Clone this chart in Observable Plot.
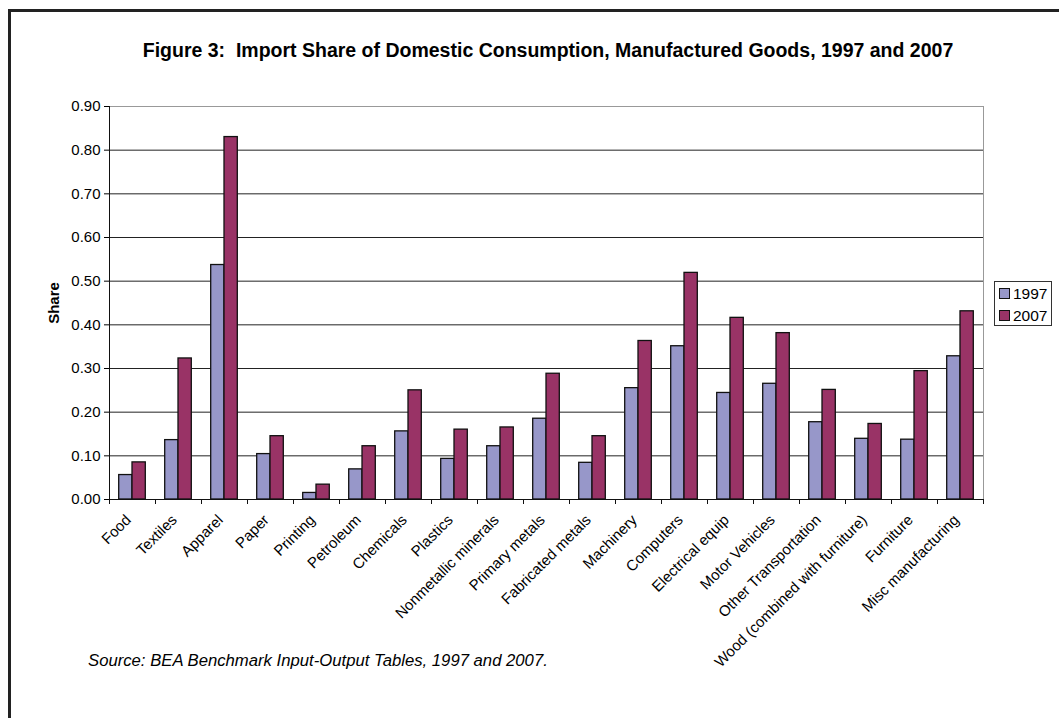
<!DOCTYPE html>
<html><head><meta charset="utf-8">
<script src="https://cdn.jsdelivr.net/npm/d3@7"></script>
<script src="https://cdn.jsdelivr.net/npm/@observablehq/plot@0.6"></script>
<style>
body{margin:0;background:#fff;font-family:"Liberation Sans",Arial,sans-serif;color:#000;}
#wrap{position:relative;width:1059px;height:718px;overflow:hidden;background:#fff;}
#frame{position:absolute;left:8px;top:9px;right:-10px;bottom:-10px;border-left:3px solid #222;border-top:3px solid #222;}
#chart{position:absolute;left:0;top:0;}
#title{position:absolute;left:0;width:1096px;top:41px;text-align:center;font-weight:bold;font-size:19.5px;line-height:1;white-space:nowrap;}
#source{position:absolute;left:88px;top:653px;font-style:italic;font-size:16.7px;line-height:1;white-space:nowrap;}
#legend{position:absolute;left:994px;top:281px;width:56px;height:43px;border:1px solid #333;background:#fff;}
.sw{position:absolute;left:4px;width:9px;height:9px;border:1px solid #111;}
.lt{position:absolute;left:18px;font-size:15.5px;line-height:1;}
</style>
</head><body>
<div id="wrap">
  <div id="frame"></div>
  <div id="chart"></div>
  <div id="title">Figure 3:&nbsp; Import Share of Domestic Consumption, Manufactured Goods, 1997 and 2007</div>
  <div id="source">Source: BEA Benchmark Input-Output Tables, 1997 and 2007.</div>
  <div id="legend"></div>
</div>
<script>
const categories = ["Food","Textiles","Apparel","Paper","Printing","Petroleum","Chemicals","Plastics","Nonmetallic minerals","Primary metals","Fabricated metals","Machinery","Computers","Electrical equip","Motor Vehicles","Other Transportation","Wood (combined with furniture)","Furniture","Misc manufacturing"];
const share1997 = [0.056,0.136,0.537,0.104,0.015,0.069,0.156,0.093,0.122,0.185,0.084,0.255,0.351,0.244,0.265,0.177,0.139,0.137,0.328];
const share2007 = [0.085,0.323,0.830,0.145,0.034,0.122,0.250,0.160,0.165,0.288,0.145,0.363,0.519,0.416,0.381,0.251,0.173,0.294,0.431];
const years = ["1997","2007"];
const yearColors = ["#9797C9","#993366"];
const yTicks = [0,0.1,0.2,0.3,0.4,0.5,0.6,0.7,0.8,0.9];

const d97 = categories.map((c,i)=>({category:c, year:"1997", value:share1997[i]}));
const d07 = categories.map((c,i)=>({category:c, year:"2007", value:share2007[i]}));

const chart = Plot.plot({
  width: 1059, height: 718,
  marginLeft: 109, marginRight: 76, marginTop: 106, marginBottom: 219,
  style: {fontFamily: '"Liberation Sans", Arial, sans-serif', fontSize: "15px", color: "#000", background: "transparent"},
  x: {type: "band", domain: categories, padding: 0},
  y: {domain: [0, 0.9]},
  color: {domain: years, range: yearColors},
  marks: [
    Plot.frame({stroke: "#999"}),
    Plot.gridY(yTicks.slice(1, -1), {stroke: "#222", strokeOpacity: 1}),
    Plot.barY(d97, {x: "category", y: "value", fill: "year", stroke: "#111", strokeWidth: 1.3, insetLeft: 9.7, insetRight: 23}),
    Plot.barY(d07, {x: "category", y: "value", fill: "year", stroke: "#111", strokeWidth: 1.3, insetLeft: 23, insetRight: 9.7}),
    Plot.ruleY([0], {stroke: "#111"}),
    Plot.ruleX([categories[0]], {dx: -23, stroke: "#111"}),
    Plot.ruleX(categories, {y1: 0, y2: 0, insetBottom: -5, dx: -23, stroke: "#111"}),
    Plot.ruleX([categories[categories.length-1]], {y1: 0, y2: 0, insetBottom: -5, dx: 23, stroke: "#111"}),
    Plot.axisY({ticks: yTicks, tickFormat: d => d.toFixed(2), tickSize: 5, tickPadding: 4, label: null, fontSize: 15}),
    Plot.axisX({tickSize: 0, tickRotate: -45, tickPadding: 18, dx: -4, label: null, fontSize: 15}),
    Plot.text(["Share"], {frameAnchor: "left", textAnchor: "middle", rotate: -90, dx: -55, fontWeight: "bold", fontSize: 15})
  ]
});
document.getElementById("chart").appendChild(chart);

const legend = document.getElementById("legend");
years.forEach((y, i) => {
  const sw = document.createElement("div");
  sw.className = "sw"; sw.style.top = (6 + i*22) + "px"; sw.style.background = yearColors[i];
  const t = document.createElement("div");
  t.className = "lt"; t.style.top = (4 + i*22) + "px"; t.textContent = y;
  legend.appendChild(sw); legend.appendChild(t);
});
</script>
</body></html>
